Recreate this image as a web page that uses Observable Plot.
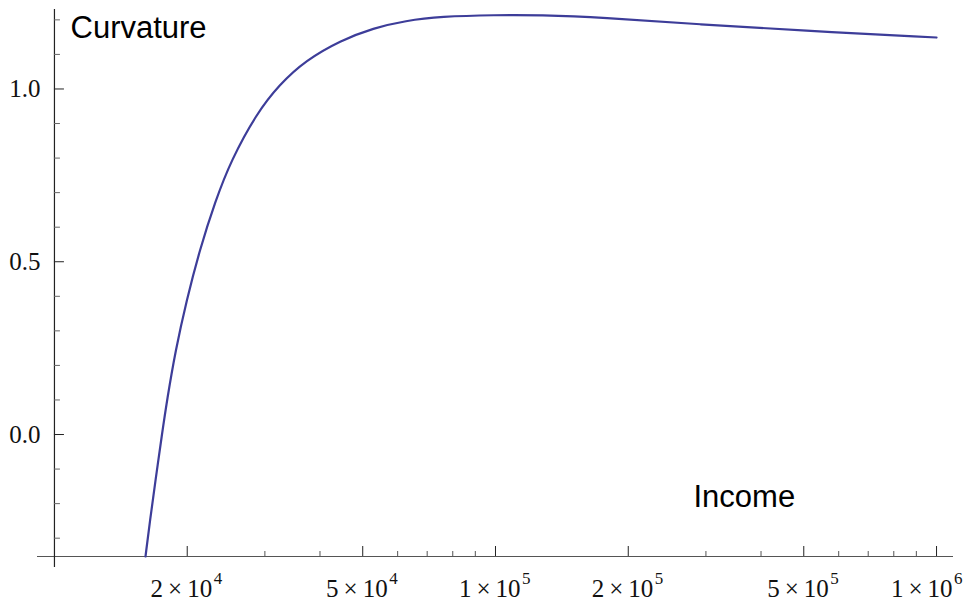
<!DOCTYPE html>
<html>
<head>
<meta charset="utf-8">
<script src="https://cdn.jsdelivr.net/npm/d3@7"></script>
<script src="https://cdn.jsdelivr.net/npm/@observablehq/plot@0.6"></script>
<style>
  html, body { margin: 0; padding: 0; background: #fff; }
  svg { display: block; }
</style>
</head>
<body>
<div id="chart"></div>
<script>
// Curve values (income, curvature)
const incomes   = [16085, 16467, 16947, 17532, 17994, 18811, 19932, 21323, 23181, 25136, 28720, 32376, 37089, 44527, 52896, 62517, 75063, 100000, 126500, 173000, 291600, 491500, 1000000];
const curvature = [-0.353, -0.249, -0.133, 0.001, 0.0985, 0.243, 0.388, 0.5325, 0.677, 0.793, 0.929, 1.013, 1.0824, 1.1403, 1.1765, 1.1976, 1.2097, 1.2141, 1.2138, 1.2077, 1.1866, 1.1692, 1.1489];

// Ticks
const xMajorTicks = [2e4, 5e4, 1e5, 2e5, 5e5, 1e6];
const xMinorTicks = [3e4, 4e4, 6e4, 7e4, 8e4, 9e4, 3e5, 4e5, 6e5, 7e5, 8e5, 9e5];
const yMajorTicks = [0, 0.5, 1.0];
const yMinorTicks = [-0.3, -0.2, -0.1, 0.1, 0.2, 0.3, 0.4, 0.6, 0.7, 0.8, 0.9, 1.1, 1.2];

// Labels
const yLabel = "Curvature";
const xLabel = "Income";

// Axes ranges
const xDomain = [9153, 1.0926e6];
const yDomain = [-0.353, 1.23];
const xAxisAt = yDomain[0];   // x axis drawn at bottom of the range
const yAxisAt = 1e4;          // y axis crosses at income = 10^4

const data = incomes.map((x, i) => ({x, y: curvature[i]}));

const serif = "'Liberation Serif', 'Times New Roman', Times, serif";
const sans = "'Liberation Sans', Arial, Helvetica, sans-serif";

const exponent = d => Math.floor(Math.log10(d) + 1e-9);
const mantissa = d => Math.round(d / Math.pow(10, exponent(d)));

const xLabelsInner = xMajorTicks.slice(0, -1);
const xLabelsLast = xMajorTicks.slice(-1);

const baseLabel = (ticks, shift) => Plot.text(ticks, {
  x: d => d, y: xAxisAt, text: d => `${mantissa(d)}\u2009\u00d7\u200910`,
  textAnchor: "end", lineAnchor: "bottom", dx: 25 + shift, dy: 40,
  fontFamily: serif, fontSize: 25, fill: "#111"
});
const expLabel = (ticks, shift) => Plot.text(ticks, {
  x: d => d, y: xAxisAt, text: d => `${exponent(d)}`,
  textAnchor: "start", lineAnchor: "bottom", dx: 26.5 + shift, dy: 27.5,
  fontFamily: serif, fontSize: 17, fill: "#111"
});

const chart = Plot.plot({
  width: 968,
  height: 602,
  marginLeft: 37,
  marginRight: 15,
  marginTop: 9,
  marginBottom: 46,
  style: {background: "#fff"},
  x: {type: "log", domain: xDomain, axis: null},
  y: {domain: yDomain, axis: null},
  marks: [
    // axis lines
    Plot.ruleY([xAxisAt], {stroke: "#555", strokeWidth: 1.2}),
    Plot.ruleX([yAxisAt], {stroke: "#222", strokeWidth: 1.2, insetBottom: -11}),
    // x ticks (pointing up)
    Plot.ruleX(xMajorTicks, {x: d => d, y1: xAxisAt, y2: xAxisAt, insetTop: -10, stroke: "#222", strokeWidth: 1}),
    Plot.ruleX(xMinorTicks, {x: d => d, y1: xAxisAt, y2: xAxisAt, insetTop: -5, stroke: "#555", strokeWidth: 1}),
    // y ticks (pointing right)
    Plot.ruleY(yMajorTicks, {y: d => d, x1: yAxisAt, x2: yAxisAt, insetRight: -10, stroke: "#222", strokeWidth: 1}),
    Plot.ruleY(yMinorTicks, {y: d => d, x1: yAxisAt, x2: yAxisAt, insetRight: -6, stroke: "#666", strokeWidth: 1}),
    // y tick labels
    Plot.text(yMajorTicks, {
      x: yAxisAt, y: d => d, text: d => d.toFixed(1),
      textAnchor: "end", dx: -14, fontFamily: serif, fontSize: 25, fill: "#111"
    }),
    // x tick labels: mantissa × 10 with superscript exponent
    baseLabel(xLabelsInner, 0),
    expLabel(xLabelsInner, 0),
    baseLabel(xLabelsLast, -9),
    expLabel(xLabelsLast, -9),
    // the curve
    Plot.line(data, {x: "x", y: "y", stroke: "#3d3d99", strokeWidth: 2.2, curve: "basis"}),
    // axis labels
    Plot.text([yLabel], {
      frameAnchor: "top-left", text: d => d, textAnchor: "start", lineAnchor: "bottom",
      dx: 33, dy: 28, fontFamily: sans, fontSize: 31, fill: "#000"
    }),
    Plot.text([xLabel], {
      frameAnchor: "bottom-right", text: d => d, textAnchor: "start", lineAnchor: "bottom",
      dx: -260, dy: -50, fontFamily: sans, fontSize: 31, fill: "#000"
    })
  ]
});

document.getElementById("chart").appendChild(chart);
</script>
</body>
</html>
